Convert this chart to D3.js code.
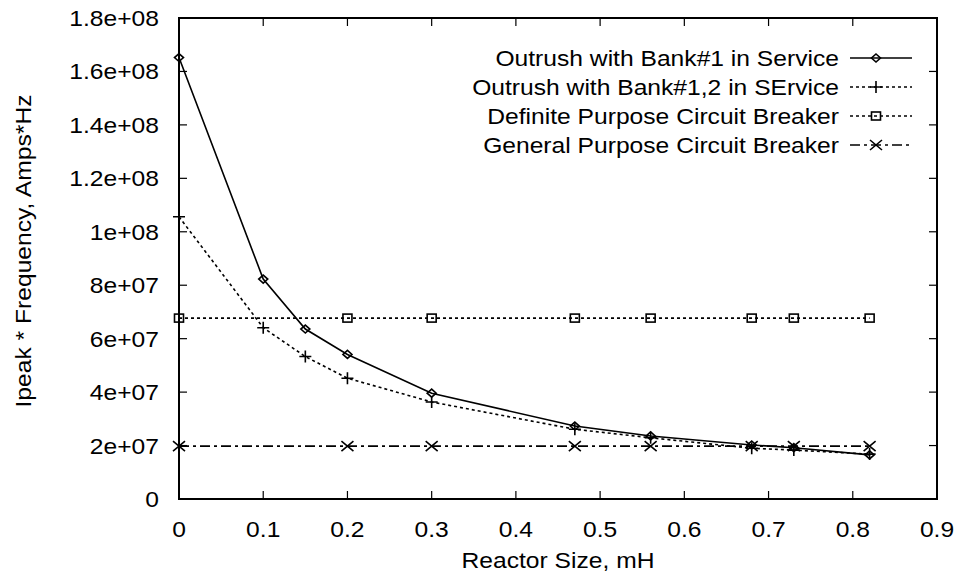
<!DOCTYPE html>
<html><head><meta charset="utf-8">
<script src="https://cdn.jsdelivr.net/npm/d3@7"></script>
<style>body{margin:0;background:#fff}text{font-family:"Liberation Sans",Arial,sans-serif;fill:#000}</style>
</head><body><svg id="c" width="960" height="576"></svg>
<script>
const xTicks=[0,0.1,0.2,0.3,0.4,0.5,0.6,0.7,0.8,0.9];
const yTicks=[0,2e7,4e7,6e7,8e7,1e8,1.2e8,1.4e8,1.6e8,1.8e8];
const yTickLabels=["0","2e+07","4e+07","6e+07","8e+07","1e+08","1.2e+08","1.4e+08","1.6e+08","1.8e+08"];
const xBank1=[0,0.1,0.15,0.2,0.3,0.47,0.56,0.68,0.73,0.82];
const yBank1=[1.652e8,8.23e7,6.36e7,5.41e7,3.96e7,2.73e7,2.36e7,2.02e7,1.92e7,1.65e7];
const xBank12=[0,0.1,0.15,0.2,0.3,0.47,0.56,0.68,0.73,0.82];
const yBank12=[1.056e8,6.41e7,5.33e7,4.52e7,3.63e7,2.61e7,2.29e7,1.9e7,1.83e7,1.68e7];
const xBreaker=[0,0.2,0.3,0.47,0.56,0.68,0.73,0.82];
const yDefinite=[6.77e7,6.77e7,6.77e7,6.77e7,6.77e7,6.77e7,6.77e7,6.77e7];
const yGeneral=[1.98e7,1.98e7,1.98e7,1.98e7,1.98e7,1.98e7,1.98e7,1.98e7];
const seriesNames=["Outrush with Bank#1 in Service","Outrush with Bank#1,2 in SErvice","Definite Purpose Circuit Breaker","General Purpose Circuit Breaker"];

const svg=d3.select("#c");
const L=179,R=937,T=18,B=499;
const x=d3.scaleLinear().domain([0,0.9]).range([L,R]);
const y=d3.scaleLinear().domain([0,1.8e8]).range([B,T]);
const fs=22, sx=1.12;
function txt(px,py,anchor,s,rot){
  return svg.append("text")
    .attr("transform","translate("+px+","+py+")"+(rot?" rotate(-90)":"")+" scale("+sx+",1)")
    .attr("text-anchor",anchor).attr("font-size",fs).text(s);
}

const tl=8;
const g=svg.append("g").attr("stroke","#000").attr("stroke-width",1.2);
xTicks.forEach(v=>{
  g.append("line").attr("x1",x(v)).attr("x2",x(v)).attr("y1",B).attr("y2",B-tl);
  g.append("line").attr("x1",x(v)).attr("x2",x(v)).attr("y1",T).attr("y2",T+tl);
});
yTicks.forEach(v=>{
  g.append("line").attr("x1",L).attr("x2",L+tl).attr("y1",y(v)).attr("y2",y(v));
  g.append("line").attr("x1",R).attr("x2",R-tl).attr("y1",y(v)).attr("y2",y(v));
});
xTicks.forEach(v=>txt(x(v),B+38,"middle",String(v)));
yTicks.forEach((v,i)=>txt(L-20,y(v)+8,"end",yTickLabels[i]));

txt((L+R)/2,568,"middle","Reactor Size, mH");
txt(31,251,"middle","Ipeak * Frequency, Amps*Hz",true);

const styles=[
  {dash:null,mark:"diamond"},
  {dash:"3,3",mark:"plus"},
  {dash:"3,3",mark:"square"},
  {dash:"10,4,3,4",mark:"cross"}
];
function marker(sel,type,cx,cy){
  const s=sel.append("g").attr("transform","translate("+cx+","+cy+")").attr("fill","none").attr("stroke","#000").attr("stroke-width",1.6);
  if(type==="diamond") s.append("path").attr("d","M0,-4L4.5,0L0,4L-4.5,0Z");
  if(type==="plus") s.append("path").attr("d","M-6,0H6M0,-6V6");
  if(type==="square") s.append("rect").attr("x",-4.5).attr("y",-4).attr("width",9).attr("height",8);
  if(type==="cross") s.append("path").attr("d","M-6,-5L6,5M-6,5L6,-5");
}
const data=[[xBank1,yBank1],[xBank12,yBank12],[xBreaker,yDefinite],[xBreaker,yGeneral]];
const line=d3.line().x(d=>x(d[0])).y(d=>y(d[1]));
data.forEach((s,i)=>{
  const pts=s[0].map((v,j)=>[v,s[1][j]]);
  svg.append("path").attr("d",line(pts)).attr("fill","none").attr("stroke","#000").attr("stroke-width",1.6).attr("stroke-dasharray",styles[i].dash);
  pts.forEach(p=>marker(svg,styles[i].mark,x(p[0]),y(p[1])));
});
const ly=[58,87,116,145];
seriesNames.forEach((n,i)=>{
  txt(839,ly[i]+8,"end",n);
  svg.append("line").attr("x1",850).attr("x2",912).attr("y1",ly[i]).attr("y2",ly[i]).attr("stroke","#000").attr("stroke-width",1.6).attr("stroke-dasharray",styles[i].dash);
  marker(svg,styles[i].mark,876,ly[i]);
});
svg.append("rect").attr("x",L).attr("y",T).attr("width",R-L).attr("height",B-T).attr("fill","none").attr("stroke","#000").attr("stroke-width",2);
</script></body></html>
